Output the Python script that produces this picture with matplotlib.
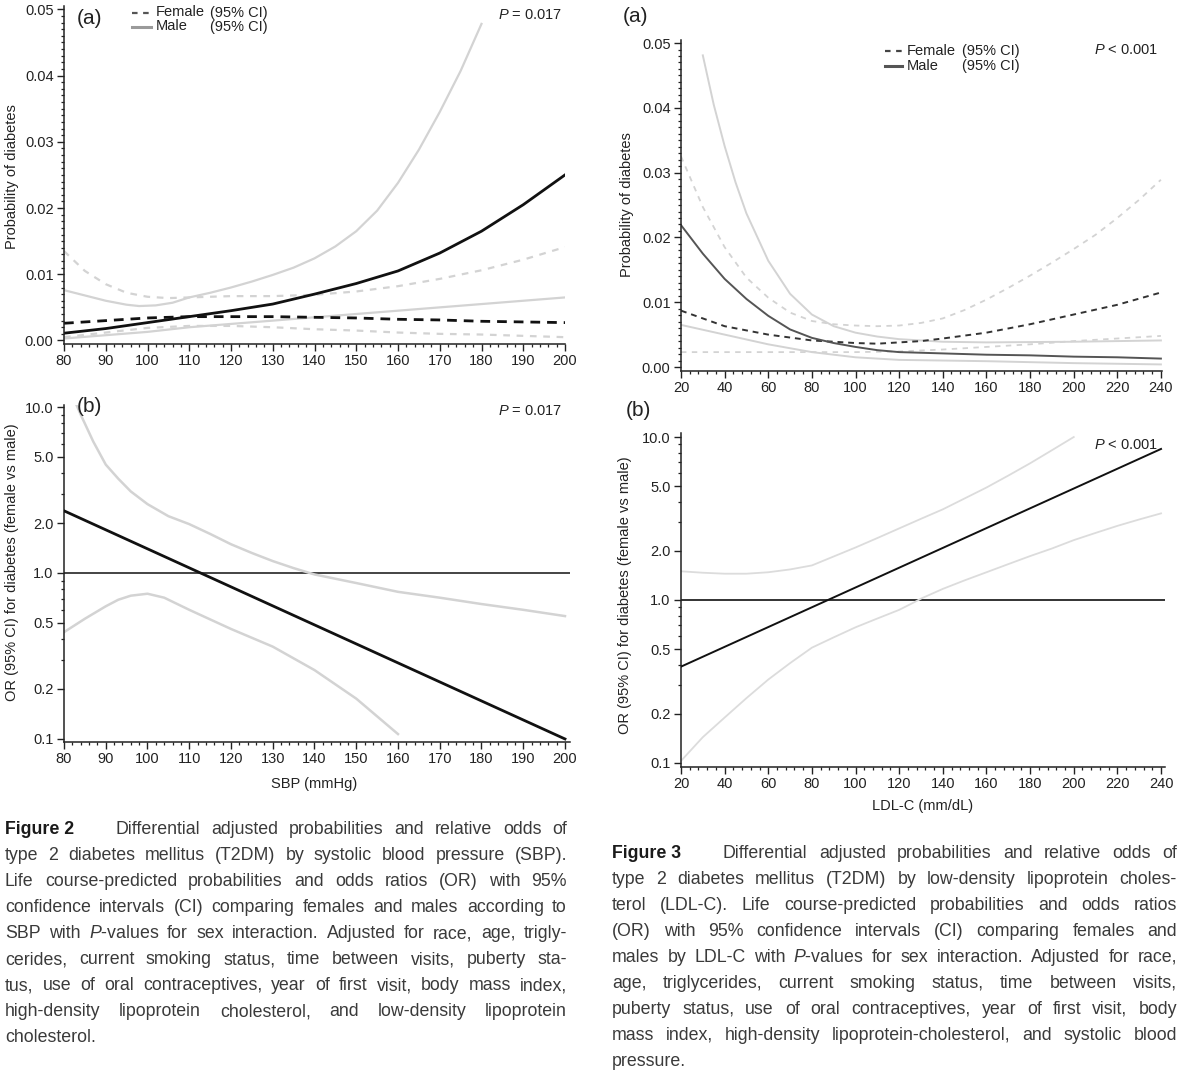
import matplotlib
matplotlib.use("Agg")
import matplotlib.pyplot as plt
from matplotlib.lines import Line2D
from matplotlib.ticker import MultipleLocator, FixedLocator, FixedFormatter, FormatStrFormatter, NullFormatter

plt.rcParams["font.family"] = ["Liberation Sans", "DejaVu Sans"]
plt.rcParams["mathtext.fontset"] = "custom"
plt.rcParams["mathtext.rm"] = "Liberation Sans"
plt.rcParams["mathtext.it"] = "Liberation Sans:italic"
plt.rcParams["mathtext.bf"] = "Liberation Sans:bold"

W, H = 1181, 1077

# ── Figure 2 (a): probability of diabetes by SBP ───────────────────
sbp_male_x = [80, 90, 100, 110, 120, 130, 140, 150, 160, 170, 180, 190, 200]
sbp_male = [0.0011, 0.0018, 0.0027, 0.0036, 0.0045, 0.0055, 0.0070, 0.0086,
            0.0105, 0.0132, 0.0165, 0.0205, 0.0250]
sbp_male_hi_x = [80, 85, 90, 95, 98, 102, 106, 110, 115, 120, 125, 130, 135,
                 140, 145, 150, 155, 160, 165, 170, 175, 180]
sbp_male_hi = [0.0076, 0.0068, 0.0060, 0.0054, 0.0052, 0.0053, 0.0057, 0.0065,
               0.0072, 0.0080, 0.0089, 0.0099, 0.0110, 0.0124, 0.0142, 0.0165,
               0.0196, 0.0238, 0.0288, 0.0345, 0.0407, 0.0478]
sbp_male_lo_x = [80, 90, 100, 110, 120, 130, 140, 150, 160, 170, 180, 190, 200]
sbp_male_lo = [0.0003, 0.0008, 0.0013, 0.0020, 0.0025, 0.0030, 0.0035, 0.0040,
               0.0045, 0.0050, 0.0055, 0.0060, 0.0065]
sbp_fem_x = [80, 90, 100, 110, 120, 130, 140, 150, 160, 170, 180, 190, 200]
sbp_fem = [0.0026, 0.0030, 0.0034, 0.0036, 0.0036, 0.0036, 0.0035, 0.0034,
           0.0032, 0.0031, 0.0029, 0.0028, 0.0027]
sbp_fem_hi_x = [80, 85, 90, 95, 100, 105, 110, 120, 130, 140, 150, 160, 170, 180, 190, 200]
sbp_fem_hi = [0.0135, 0.0105, 0.0085, 0.0072, 0.0066, 0.0064, 0.0065, 0.0067,
              0.0067, 0.0069, 0.0074, 0.0082, 0.0093, 0.0106, 0.0122, 0.0141]
sbp_fem_lo_x = [80, 90, 100, 110, 120, 130, 140, 150, 160, 170, 180, 190, 200]
sbp_fem_lo = [0.0005, 0.0012, 0.0019, 0.0022, 0.0022, 0.0020, 0.0017, 0.0015,
              0.0012, 0.0010, 0.0009, 0.0007, 0.0005]

# ── Figure 2 (b): OR female vs male by SBP ─────────────────────────
sbp_or_x = [80, 200]
sbp_or = [2.37, 0.10]
sbp_or_hi_x = [82.5, 84, 87, 90, 93, 96, 100, 105, 110, 115, 120, 125, 130, 135,
               140, 150, 160, 170, 180, 190, 200]
sbp_or_hi = [11.0, 9.0, 6.2, 4.5, 3.7, 3.1, 2.6, 2.2, 1.97, 1.72, 1.49, 1.32,
             1.18, 1.07, 0.98, 0.87, 0.77, 0.71, 0.65, 0.60, 0.55]
sbp_or_lo_x = [80, 85, 90, 93, 96, 100, 104, 110, 120, 130, 140, 150, 160]
sbp_or_lo = [0.44, 0.53, 0.63, 0.69, 0.73, 0.75, 0.71, 0.60, 0.46, 0.36, 0.26,
             0.175, 0.107]

# ── Figure 3 (a): probability of diabetes by LDL-C ─────────────────
ldl_male_x = [20, 30, 40, 50, 60, 70, 80, 90, 100, 110, 120, 140, 160, 180, 200, 220, 240]
ldl_male = [0.0219, 0.0175, 0.0136, 0.0105, 0.0079, 0.0058, 0.0045, 0.0037,
            0.0031, 0.0026, 0.0023, 0.0021, 0.0019, 0.0018, 0.0016, 0.0015, 0.0013]
ldl_male_hi_x = [30, 35, 40, 45, 50, 60, 70, 80, 90, 100, 110, 120, 140, 160, 200, 240]
ldl_male_hi = [0.0481, 0.0405, 0.0341, 0.0285, 0.0237, 0.0164, 0.0113, 0.0081,
               0.0063, 0.0053, 0.0047, 0.0043, 0.0039, 0.0038, 0.0039, 0.0041]
ldl_male_lo_x = [20, 40, 60, 80, 100, 120, 160, 200, 240]
ldl_male_lo = [0.0065, 0.0050, 0.0035, 0.0023, 0.0015, 0.0011, 0.0009, 0.0006, 0.0004]
ldl_fem_x = [20, 40, 60, 80, 100, 110, 120, 130, 140, 160, 180, 200, 220, 240]
ldl_fem = [0.0087, 0.0063, 0.0050, 0.0041, 0.0037, 0.0036, 0.0038, 0.0040,
           0.0044, 0.0053, 0.0066, 0.0081, 0.0096, 0.0115]
ldl_fem_hi_x = [20, 30, 40, 50, 60, 70, 80, 90, 100, 110, 120, 130, 140, 150,
                160, 170, 180, 190, 200, 210, 220, 230, 240]
ldl_fem_hi = [0.0325, 0.0247, 0.0185, 0.0138, 0.0107, 0.0084, 0.0071, 0.0066,
              0.0064, 0.0063, 0.0064, 0.0068, 0.0075, 0.0088, 0.0104, 0.0122,
              0.0141, 0.0161, 0.0182, 0.0204, 0.0230, 0.0258, 0.0289]
ldl_fem_lo_x = [20, 60, 100, 120, 140, 160, 180, 200, 220, 240]
ldl_fem_lo = [0.0023, 0.0023, 0.0023, 0.0024, 0.0027, 0.0031, 0.0035, 0.0040, 0.0044, 0.0048]

# ── Figure 3 (b): OR female vs male by LDL-C ───────────────────────
ldl_or_x = [20, 240]
ldl_or = [0.39, 8.45]
ldl_or_hi_x = [20, 30, 40, 50, 60, 70, 80, 90, 100, 110, 120, 130, 140, 150,
               160, 170, 180, 190, 200]
ldl_or_hi = [1.50, 1.47, 1.45, 1.45, 1.48, 1.54, 1.63, 1.85, 2.10, 2.40, 2.75,
             3.15, 3.60, 4.20, 4.90, 5.80, 6.90, 8.30, 10.0]
ldl_or_lo_x = [20, 30, 40, 50, 60, 70, 80, 90, 100, 110, 120, 127, 130, 140,
               150, 160, 170, 180, 190, 200, 210, 220, 230, 240]
ldl_or_lo = [0.103, 0.144, 0.19, 0.25, 0.325, 0.41, 0.51, 0.59, 0.68, 0.77,
             0.87, 0.97, 1.02, 1.17, 1.32, 1.48, 1.66, 1.86, 2.07, 2.33, 2.58,
             2.85, 3.12, 3.40]

or_ticks = [0.1, 0.2, 0.5, 1.0, 2.0, 5.0, 10.0]
or_tick_labels = ["0.1", "0.2", "0.5", "1.0", "2.0", "5.0", "10.0"]
or_minor = [0.3, 0.4, 0.6, 0.7, 0.8, 0.9, 3, 4, 6, 7, 8, 9]

caption2 = [
    "Differential adjusted probabilities and relative odds of",
    "type 2 diabetes mellitus (T2DM) by systolic blood pressure (SBP).",
    "Life course-predicted probabilities and odds ratios (OR) with 95%",
    "confidence intervals (CI) comparing females and males according to",
    "SBP with $\\mathit{P}$-values for sex interaction. Adjusted for race, age, trigly-",
    "cerides, current smoking status, time between visits, puberty sta-",
    "tus, use of oral contraceptives, year of first visit, body mass index,",
    "high-density lipoprotein cholesterol, and low-density lipoprotein",
    "cholesterol.",
]
caption3 = [
    "Differential adjusted probabilities and relative odds of",
    "type 2 diabetes mellitus (T2DM) by low-density lipoprotein choles-",
    "terol (LDL-C). Life course-predicted probabilities and odds ratios",
    "(OR) with 95% confidence intervals (CI) comparing females and",
    "males by LDL-C with $\\mathit{P}$-values for sex interaction. Adjusted for race,",
    "age, triglycerides, current smoking status, time between visits,",
    "puberty status, use of oral contraceptives, year of first visit, body",
    "mass index, high-density lipoprotein-cholesterol, and systolic blood",
    "pressure.",
]

CI = "#d3d3d3"
INK = "#222222"
TICK_FS = 10.5
LABEL_FS = 10.5

fig = plt.figure(figsize=(W / 100, H / 100), dpi=100)
fig.patch.set_facecolor("white")


def px_axes(x0, x1, ytop, ybot):
    """Axes placed by pixel edges (origin top-left)."""
    return fig.add_axes([x0 / W, 1 - ybot / H, (x1 - x0) / W, (ybot - ytop) / H])


def ftext(x, y, s, **kw):
    kw.setdefault("color", INK)
    return fig.text(x / W, 1 - y / H, s, **kw)


def style_axes(ax):
    for side in ("top", "right"):
        ax.spines[side].set_visible(False)
    for side in ("left", "bottom"):
        ax.spines[side].set_color(INK)
        ax.spines[side].set_linewidth(1.1)
    ax.tick_params(which="major", direction="out", length=5, width=1.0,
                   color=INK, labelsize=TICK_FS, labelcolor=INK, pad=2.5)
    ax.tick_params(which="minor", direction="out", length=2.5, width=0.9, color=INK)


def prob_axes(ax):
    style_axes(ax)
    ax.set_ylim(-0.0005, 0.0505)
    ax.yaxis.set_major_locator(MultipleLocator(0.01))
    ax.yaxis.set_minor_locator(MultipleLocator(0.001))
    ax.yaxis.set_major_formatter(FormatStrFormatter("%.2f"))


def or_axes(ax, ylim):
    style_axes(ax)
    ax.set_yscale("log")
    ax.set_ylim(*ylim)
    ax.yaxis.set_major_locator(FixedLocator(or_ticks))
    ax.yaxis.set_major_formatter(FixedFormatter(or_tick_labels))
    ax.yaxis.set_minor_locator(FixedLocator(or_minor))
    ax.yaxis.set_minor_formatter(NullFormatter())


# ── Left column: SBP ──────────────────────────────────────────────
ax1 = px_axes(64, 565, 6, 343.8)
prob_axes(ax1)
ax1.set_xlim(80, 200)
ax1.xaxis.set_major_locator(MultipleLocator(10))
ax1.xaxis.set_minor_locator(MultipleLocator(2))
ax1.plot(sbp_fem_hi_x, sbp_fem_hi, color=CI, lw=1.6, ls=(0, (3, 3)))
ax1.plot(sbp_fem_lo_x, sbp_fem_lo, color=CI, lw=1.6, ls=(0, (3, 3)))
ax1.plot(sbp_male_hi_x, sbp_male_hi, color=CI, lw=1.6)
ax1.plot(sbp_male_lo_x, sbp_male_lo, color=CI, lw=1.6)
ax1.plot(sbp_fem_x, sbp_fem, color="#111111", lw=2.0, ls=(0, (3.5, 2.5)))
ax1.plot(sbp_male_x, sbp_male, color="#111111", lw=2.0)

ax2 = px_axes(64, 570, 404.9, 741.9)
or_axes(ax2, (0.096, 10.3))
ax2.set_xlim(80, 201.2)
ax2.xaxis.set_major_locator(MultipleLocator(10))
ax2.xaxis.set_minor_locator(MultipleLocator(2))
ax2.axhline(1.0, color="#111111", lw=1.1, zorder=1)
ax2.plot(sbp_or_hi_x, sbp_or_hi, color=CI, lw=1.8, zorder=2)
ax2.plot(sbp_or_lo_x, sbp_or_lo, color=CI, lw=1.8, zorder=2)
ax2.plot(sbp_or_x, sbp_or, color="#111111", lw=2.0, zorder=3)

# ── Right column: LDL-C ───────────────────────────────────────────
ax3 = px_axes(681, 1162, 39.8, 370.9)
prob_axes(ax3)
ax3.set_ylim(-0.0006, 0.0505)
ax3.set_xlim(20, 240.5)
ax3.xaxis.set_major_locator(MultipleLocator(20))
ax3.xaxis.set_minor_locator(MultipleLocator(4))
ax3.plot(ldl_fem_hi_x, ldl_fem_hi, color=CI, lw=1.3, ls=(0, (3, 3)))
ax3.plot(ldl_fem_lo_x, ldl_fem_lo, color=CI, lw=1.3, ls=(0, (3, 3)))
ax3.plot(ldl_male_hi_x, ldl_male_hi, color=CI, lw=1.4)
ax3.plot(ldl_male_lo_x, ldl_male_lo, color=CI, lw=1.4)
ax3.plot(ldl_fem_x, ldl_fem, color="#333333", lw=1.4, ls=(0, (3, 2.5)))
ax3.plot(ldl_male_x, ldl_male, color="#555555", lw=1.4)

ax4 = px_axes(681, 1165.4, 432.9, 766.6)
or_axes(ax4, (0.095, 10.6))
ax4.set_xlim(20, 242)
ax4.xaxis.set_major_locator(MultipleLocator(20))
ax4.xaxis.set_minor_locator(MultipleLocator(4))
ax4.axhline(1.0, color="#111111", lw=1.2, zorder=1)
ax4.plot(ldl_or_hi_x, ldl_or_hi, color="#dcdcdc", lw=1.3, zorder=2)
ax4.plot(ldl_or_lo_x, ldl_or_lo, color="#dcdcdc", lw=1.3, zorder=2)
ax4.plot(ldl_or_x, ldl_or, color="#111111", lw=1.4, zorder=3)

# ── Panel letters, P values, axis labels ──────────────────────────
for (x, y, s) in [(89, 18, "(a)"), (89, 406, "(b)"), (636, 17, "(a)"), (638, 410, "(b)")]:
    ftext(x, y, s, fontsize=15, ha="center", va="center")

for (x, y, s) in [(562, 15, "$\\mathit{P}$ = 0.017"), (562, 411, "$\\mathit{P}$ = 0.017"),
                  (1158, 50, "$\\mathit{P}$ < 0.001"), (1158, 445, "$\\mathit{P}$ < 0.001")]:
    ftext(x, y, s, fontsize=10.5, ha="right", va="center")

ftext(12, 177, "Probability of diabetes", fontsize=LABEL_FS, rotation=90, ha="center", va="center")
ftext(627, 205, "Probability of diabetes", fontsize=LABEL_FS, rotation=90, ha="center", va="center")
ftext(12, 562, "OR (95% CI) for diabetes (female vs male)", fontsize=LABEL_FS,
      rotation=90, ha="center", va="center")
ftext(625, 595, "OR (95% CI) for diabetes (female vs male)", fontsize=LABEL_FS,
      rotation=90, ha="center", va="center")
ftext(314, 784, "SBP (mmHg)", fontsize=LABEL_FS, ha="center", va="center")
ftext(923, 806, "LDL-C (mm/dL)", fontsize=LABEL_FS, ha="center", va="center")


# ── Legends drawn by hand so the "(95% CI)" column lines up ───────
def legend(hx0, hx1, tx, cx, ys, fem_color, male_color):
    yf, ym = ys
    fig.add_artist(Line2D([hx0 / W, hx1 / W], [1 - yf / H] * 2, color=fem_color,
                          lw=1.6, ls=(0, (2.5, 2.5))))
    fig.add_artist(Line2D([hx0 / W, hx1 / W], [1 - ym / H] * 2, color=male_color, lw=2.2))
    ftext(tx, yf, "Female", fontsize=10.5, va="center")
    ftext(cx, yf, "(95% CI)", fontsize=10.5, va="center")
    ftext(tx, ym, "Male", fontsize=10.5, va="center")
    ftext(cx, ym, "(95% CI)", fontsize=10.5, va="center")


legend(132, 151, 156, 210, (12.5, 26.5), "#555555", "#9a9a9a")
legend(885, 902, 907, 962, (51, 66), "#444444", "#555555")

# ── Captions (justified by hand) ──────────────────────────────────
renderer = fig.canvas.get_renderer()
CAP_FS = 12.8
CAP_COLOR = "#3a3a3a"


def caption(label, lines, x0, x1, first_x, y0, dy):
    ftext(x0, y0, label, fontsize=CAP_FS, weight="bold", color="#1a1a1a", va="center")
    space = CAP_FS * 0.278 * 100 / 72
    for i, line in enumerate(lines):
        y = y0 + i * dy
        start = first_x if i == 0 else x0
        words = line.split(" ")
        objs = [ftext(0, y, w, fontsize=CAP_FS, color=CAP_COLOR, va="center") for w in words]
        widths = [o.get_window_extent(renderer).width for o in objs]
        if i == len(lines) - 1 or len(words) == 1:
            gap = space
        else:
            gap = max((x1 - start - sum(widths)) / (len(words) - 1), 0.6 * space)
        x = start
        for o, w in zip(objs, widths):
            o.set_x(x / W)
            x += w + gap


caption("Figure 2", caption2, 5, 567, 116, 830, 26)
caption("Figure 3", caption3, 612, 1177, 723, 853, 26)

fig.savefig("out.png", dpi=100, facecolor="white")
